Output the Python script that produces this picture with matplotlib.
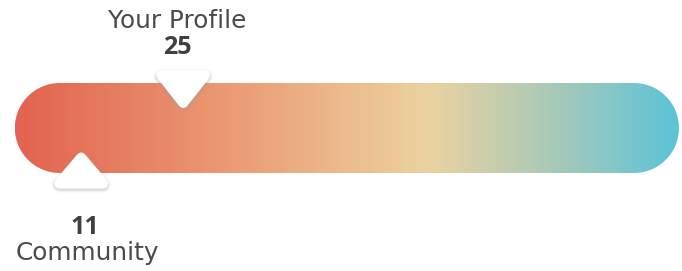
import numpy as np
import matplotlib
matplotlib.use("Agg")
import matplotlib.pyplot as plt
from matplotlib.patches import Polygon
from matplotlib.colors import LinearSegmentedColormap
from matplotlib import transforms

# ---- data ----
labels = ["Your Profile", "Community"]
values = [25, 11]
scale_min, scale_max = 1.9, 93.0
gradient_stops = [0.0, 0.32, 0.62, 0.82, 1.0]
gradient_colors = ["#E2634F", "#EB9A74", "#ECD2A0", "#A5C9BA", "#5CC3D8"]

W, H = 682, 271
fig = plt.figure(figsize=(W / 100, H / 100), dpi=100)
ax = fig.add_axes([0, 0, 1, 1])
px_per_unit = 7.29
ax.set_xlim(-1 / px_per_unit, (W - 1) / px_per_unit)
ax.set_ylim(H, 0)
ax.axis("off")

# gradient bar
bar_top, bar_bot = 83, 173
cmap = LinearSegmentedColormap.from_list("g", list(zip(gradient_stops, gradient_colors)))
grad = np.linspace(0, 1, 512).reshape(1, -1)
im = ax.imshow(grad, cmap=cmap, aspect="auto",
               extent=[scale_min, scale_max, bar_bot, bar_top], zorder=1,
               interpolation="bilinear")

# stadium-shaped clip path built in display pixels
xl, yb = ax.transData.transform((scale_min, bar_bot))
xr, yt = ax.transData.transform((scale_max, bar_top))
r = (yt - yb) / 2
yc = (yt + yb) / 2
th_l = np.linspace(np.pi / 2, 3 * np.pi / 2, 80)
th_r = np.linspace(-np.pi / 2, np.pi / 2, 80)
pts = np.vstack([
    np.column_stack([xl + r + r * np.cos(th_l), yc + r * np.sin(th_l)]),
    np.column_stack([xr - r + r * np.cos(th_r), yc + r * np.sin(th_r)]),
])
clip = Polygon(pts, closed=True, transform=transforms.IdentityTransform(),
               facecolor="none", edgecolor="none")
im.set_clip_path(clip)


def marker(value, y_pix, pointing_down, w=54, h=38, rr=5.0):
    # rounded triangle: bounding box w x h pixels, corner radius rr
    iw, ih = w - 2 * rr, h - 2 * rr
    if pointing_down:
        inner = [(-iw / 2, ih / 2), (iw / 2, ih / 2), (0, -ih / 2)]
    else:
        inner = [(-iw / 2, -ih / 2), (iw / 2, -ih / 2), (0, ih / 2)]
    base = transforms.ScaledTranslation(value, y_pix, ax.transData)
    for extra, al in [(6, 0.04), (4, 0.07), (2.5, 0.11), (1.2, 0.17)]:
        t = transforms.Affine2D().translate(0, -1.5) + base
        p = Polygon(inner, closed=True, transform=t, facecolor="#9aa0aa",
                    edgecolor="#9aa0aa", lw=(2 * rr + extra) * 0.72, alpha=al,
                    joinstyle="round", zorder=3)
        ax.add_patch(p)
    p = Polygon(inner, closed=True, transform=transforms.Affine2D() + base,
                facecolor="white", edgecolor="white", lw=2 * rr * 0.72,
                joinstyle="round", zorder=4)
    ax.add_patch(p)


marker(values[0], 89, True)
marker(values[1], 170.5, False, h=36)

txt = "#4a4a4a"
num = "#404040"
lab_font = "DejaVu Sans"
num_font = "Open Sans"
ax.text(values[0] - 0.8, 28, labels[0], ha="center", va="baseline", fontsize=17.8,
        color=txt, family=lab_font)
ax.text(values[0] - 0.8, 54, str(values[0]), ha="center", va="baseline", fontsize=18,
        color=num, family=num_font, fontweight="bold")
ax.text(values[1] + 0.5, 234, str(values[1]), ha="center", va="baseline", fontsize=18,
        color=num, family=num_font, fontweight="bold")
ax.text(values[1] + 0.9, 260, labels[1], ha="center", va="baseline", fontsize=17.8,
        color=txt, family=lab_font)

fig.savefig("out.png", dpi=100)
